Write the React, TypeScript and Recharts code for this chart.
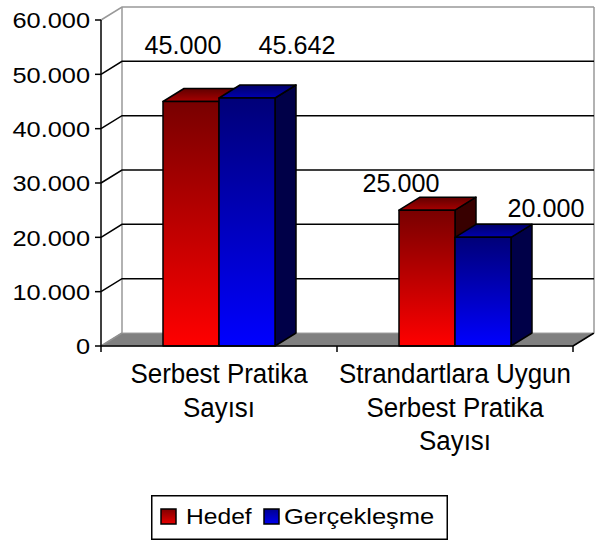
import React from "react";
import {
  BarChart,
  Bar,
  XAxis,
  YAxis,
  ReferenceArea,
  ReferenceLine,
  LabelList,
  Legend,
} from "recharts";

const categories = [
  "Serbest Pratika\nSayısı",
  "Strandartlara Uygun\nSerbest Pratika\nSayısı",
];
const hedef = [45000, 25000];
const gerceklesme = [45642, 20000];
const yTicks = [0, 10000, 20000, 30000, 40000, 50000, 60000];
const seriesNames = ["Hedef", "Gerçekleşme"];

const data = categories.map((name, i) => ({
  name,
  hedef: hedef[i],
  gerceklesme: gerceklesme[i],
}));

// excel drops the value labels wherever they fit, so nudge them by hand
const hedefLabelShift = [
  { dx: 20, dy: -48 },
  { dx: 2, dy: -18.5 },
];
const gercekLabelShift = [
  { dx: 78, dy: -44 },
  { dx: 91, dy: -20.5 },
];

// 3d depth of the box
const DX = 21;
const DY = 13;
const FONT = '"Liberation Sans", Arial, sans-serif';

const fmt = (v: number) => String(v).replace(/\B(?=(\d{3})+(?!\d))/g, ".");

// the source picture was resized unevenly, so each text group gets its own stretch
const Txt = ({ x, y, anchor = "middle", size = 21, stretch = 1, children }: any) => (
  <text
    transform={`translate(${x},${y}) scale(${stretch},1)`}
    textAnchor={anchor}
    fontFamily={FONT}
    fontSize={size}
    fill="#000"
  >
    {children}
  </text>
);

const edge = { stroke: "#000", strokeWidth: 1.5, strokeLinejoin: "round" as const };

const makeBox = (front: string, top: string, side: string) => (props: any) => {
  const { x, y, width: w, height: h } = props;
  if (w == null || h == null) return null;
  return (
    <g>
      <polygon
        points={`${x + w},${y} ${x + w + DX},${y - DY} ${x + w + DX},${y + h - DY} ${x + w},${y + h}`}
        fill={side}
        {...edge}
      />
      <polygon
        points={`${x},${y} ${x + DX},${y - DY} ${x + w + DX},${y - DY} ${x + w},${y}`}
        fill={top}
        {...edge}
      />
      <rect x={x} y={y} width={w} height={h} fill={front} {...edge} />
    </g>
  );
};

const RedBox = makeBox("url(#redFront)", "url(#redTop)", "#380000");
const BlueBox = makeBox("url(#blueFront)", "url(#blueTop)", "#000048");

// walls + floor of the excel 3d box
const Walls = (props: any) => {
  const { x, y, width: w, height: h } = props;
  const bottom = y + h;
  const step = w / categories.length;
  return (
    <g>
      <polygon
        points={`${x},${bottom} ${x + w},${bottom} ${x + w + DX},${bottom - DY} ${x + DX},${bottom - DY}`}
        fill="#808080"
        stroke="#a0a0a0"
        strokeWidth={1}
      />
      <line x1={x} y1={bottom} x2={x + DX} y2={bottom - DY} stroke="#909090" strokeWidth={1.5} />
      <line x1={x + w} y1={bottom} x2={x + w + DX} y2={bottom - DY} stroke="#000" strokeWidth={1.5} />
      <line x1={x + DX} y1={y - DY} x2={x + DX} y2={bottom - DY} stroke="#999" strokeWidth={1.5} />
      <line x1={x + w + DX} y1={y - DY} x2={x + w + DX} y2={bottom - DY} stroke="#999" strokeWidth={1.5} />
      {categories.concat([""]).map((_, i) => (
        <line
          key={i}
          x1={x + i * step}
          y1={bottom}
          x2={x + i * step}
          y2={bottom + 6}
          stroke="#000"
          strokeWidth={1.5}
        />
      ))}
    </g>
  );
};

const gridLine = (top: boolean) => (props: any) => {
  const { x1, y1, x2 } = props;
  const c = top ? "#999" : "#000";
  return (
    <polyline
      points={`${x1},${y1} ${x1 + DX},${y1 - DY} ${x2 + DX},${y1 - DY}`}
      fill="none"
      stroke={c}
      strokeWidth={1.5}
    />
  );
};

const XTick = ({ x, y, payload }: any) => (
  <g>
    {String(payload.value)
      .split("\n")
      .map((line, i) => (
        <Txt key={i} x={x} y={y + 37 + i * 33.5} size={27} stretch={0.96}>
          {line}
        </Txt>
      ))}
  </g>
);

const YTick = ({ x, y, payload }: any) => (
  <Txt x={x} y={y + 8.3} anchor="end" size={21.5} stretch={1.18}>
    {fmt(payload.value)}
  </Txt>
);

const valueLabel = (shift: { dx: number; dy: number }[]) => (props: any) => {
  const { x, y, value, index } = props;
  const s = shift[index] || { dx: 0, dy: -20 };
  return (
    <Txt x={x + s.dx} y={y + s.dy} size={26.5} stretch={0.95}>
      {fmt(value)}
    </Txt>
  );
};

const LegendBox = () => (
  <svg width={297} height={45} style={{ display: "block" }}>
    <defs>
      <linearGradient id="lgRed" x1="0" y1="0" x2="0" y2="1">
        <stop offset="0%" stopColor="#800000" />
        <stop offset="100%" stopColor="#e80000" />
      </linearGradient>
      <linearGradient id="lgBlue" x1="0" y1="0" x2="0" y2="1">
        <stop offset="0%" stopColor="#000090" />
        <stop offset="100%" stopColor="#0000f0" />
      </linearGradient>
    </defs>
    <rect x={0.75} y={0.75} width={295.5} height={43.5} fill="#fff" stroke="#000" strokeWidth={1.5} />
    <rect x={10} y={14} width={15} height={15} fill="url(#lgRed)" stroke="#000" strokeWidth={1.5} />
    <Txt x={35} y={29} anchor="start" size={22} stretch={1.12}>
      {seriesNames[0]}
    </Txt>
    <rect x={113} y={14} width={15} height={15} fill="url(#lgBlue)" stroke="#000" strokeWidth={1.5} />
    <Txt x={133} y={29} anchor="start" size={22} stretch={1.16}>
      {seriesNames[1]}
    </Txt>
  </svg>
);

export default function App() {
  return (
    <div style={{ position: "absolute", left: 0, top: 0 }}>
      <BarChart
        width={601}
        height={542}
        data={data}
        margin={{ top: 20, right: 28, left: 41, bottom: 96 }}
        barCategoryGap={62}
        barGap={0}
      >
        <defs>
          <linearGradient id="redFront" x1="0" y1="0" x2="0" y2="1">
            <stop offset="0%" stopColor="#780000" />
            <stop offset="100%" stopColor="#ff0000" />
          </linearGradient>
          <linearGradient id="blueFront" x1="0" y1="0" x2="0" y2="1">
            <stop offset="0%" stopColor="#000078" />
            <stop offset="100%" stopColor="#0000ff" />
          </linearGradient>
          <linearGradient id="redTop" x1="0" y1="0" x2="0" y2="1">
            <stop offset="0%" stopColor="#600000" />
            <stop offset="100%" stopColor="#a80000" />
          </linearGradient>
          <linearGradient id="blueTop" x1="0" y1="0" x2="0" y2="1">
            <stop offset="0%" stopColor="#000068" />
            <stop offset="100%" stopColor="#0000b0" />
          </linearGradient>
        </defs>
        <XAxis
          dataKey="name"
          tick={<XTick />}
          tickLine={false}
          tickSize={0}
          tickMargin={0}
          axisLine={{ stroke: "#000", strokeWidth: 1.5 }}
          height={100}
          interval={0}
        />
        <YAxis
          domain={[0, 60000]}
          ticks={yTicks}
          tick={<YTick />}
          width={60}
          tickSize={6}
          tickMargin={5}
          axisLine={{ stroke: "#000", strokeWidth: 1.5 }}
          tickLine={{ stroke: "#000", strokeWidth: 1.5 }}
        />
        <ReferenceArea y1={0} y2={60000} shape={<Walls />} zIndex={-20} />
        {yTicks
          .filter((t) => t > 0)
          .map((t) => (
            <ReferenceLine
              key={t}
              y={t}
              shape={gridLine(t === yTicks[yTicks.length - 1])}
              zIndex={-10}
            />
          ))}
        <Bar dataKey="hedef" name={seriesNames[0]} shape={RedBox} isAnimationActive={false}>
          <LabelList dataKey="hedef" content={valueLabel(hedefLabelShift)} />
        </Bar>
        <Bar dataKey="gerceklesme" name={seriesNames[1]} shape={BlueBox} isAnimationActive={false}>
          <LabelList dataKey="gerceklesme" content={valueLabel(gercekLabelShift)} />
        </Bar>
        <Legend
          layout="horizontal"
          verticalAlign="middle"
          align="center"
          content={() => <LegendBox />}
          wrapperStyle={{ left: 151, top: 495, width: 297, height: 45 }}
        />
      </BarChart>
    </div>
  );
}
